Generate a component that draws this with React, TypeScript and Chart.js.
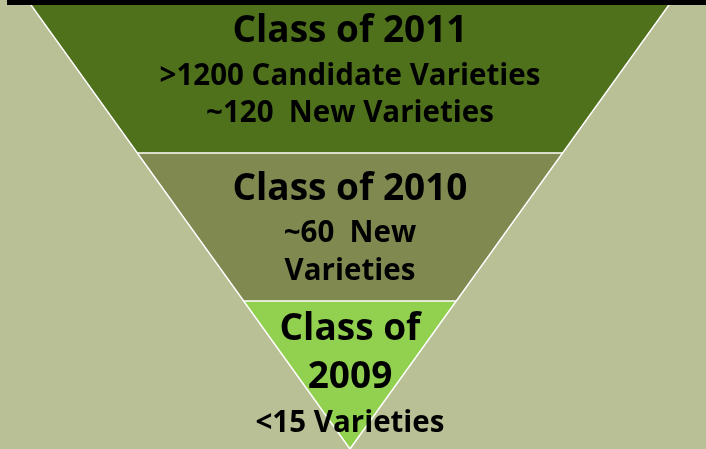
import React, { useEffect, useRef } from "react";
import { Chart, registerables } from "chart.js";

Chart.register(...registerables);

// ---- data ----
const categories = ["Class of 2011", "Class of 2010", "Class of 2009"];
const titleLines = [["Class of 2011"], ["Class of 2010"], ["Class of", "2009"]];
const detailLines = [
  [">1200 Candidate Varieties", "~120  New Varieties"],
  ["~60  New", "Varieties"],
  ["<15 Varieties"],
];
const bandLevels = [3, 2, 1, 0]; // funnel boundaries, top to apex
const bandColors = ["#4F711B", "#7F8950", "#92D050"];

// ---- style / layout ----
const BG = "#B9C096";
const EDGE = "#FFFFFF";
const FONT = "'Open Sans', sans-serif";
const TITLE_PX = 37;
const DETAIL_PX = 29.5;
const baselineOffsets = [
  [-37, 6, 43],
  [-27, 15, 53],
  [-35, 13, 57],
];
const X_MIN = -3.292;
const X_MAX = 3.349;
const Y_MAX = 3.034;
const EXT = 3.6;

export default function App() {
  const ref = useRef<HTMLCanvasElement>(null);
  useEffect(() => {
    document.body.style.margin = "0";
    const ctx = ref.current!;

    const datasets: any[] = [];
    // funnel outline (V) filling outside region with background
    datasets.push({
      label: "funnel",
      data: [
        { x: -EXT, y: EXT },
        { x: 0, y: bandLevels[bandLevels.length - 1] },
        { x: EXT, y: EXT },
      ],
      borderColor: EDGE,
      borderWidth: 1.5,
      backgroundColor: BG,
      fill: "start",
      pointRadius: 0,
    });
    // upper limit line
    datasets.push({
      label: "top",
      data: [
        { x: -EXT, y: EXT },
        { x: EXT, y: EXT },
      ],
      borderWidth: 0,
      borderColor: "rgba(0,0,0,0)",
      fill: false,
      pointRadius: 0,
    });
    bandLevels.slice(1).forEach((lvl, i) => {
      datasets.push({
        label: categories[i],
        data: [
          { x: -EXT, y: lvl },
          { x: EXT, y: lvl },
        ],
        borderColor: EDGE,
        borderWidth: 1.5,
        backgroundColor: bandColors[i],
        fill: "-1",
        pointRadius: 0,
      });
    });

    const textPlugin = {
      id: "funnelText",
      afterDatasetsDraw(chart: any) {
        const c = chart.ctx;
        const xs = chart.scales.x;
        const ys = chart.scales.y;
        const cx = xs.getPixelForValue(0);
        c.save();
        c.fillStyle = "#000";
        c.textAlign = "center";
        c.textBaseline = "alphabetic";
        categories.forEach((_, i) => {
          const cy =
            (ys.getPixelForValue(bandLevels[i]) + ys.getPixelForValue(bandLevels[i + 1])) / 2;
          const lines = [
            ...titleLines[i].map((t) => ({ t, s: TITLE_PX })),
            ...detailLines[i].map((t) => ({ t, s: DETAIL_PX })),
          ];
          lines.forEach((ln, j) => {
            c.font = `bold ${ln.s}px ${FONT}`;
            c.fillText(ln.t, cx, cy + baselineOffsets[i][j]);
          });
        });
        // black frame strip at top
        c.fillStyle = "#000";
        c.fillRect(7, 0, chart.width - 7, 5);
        c.restore();
      },
    };

    const chart = new Chart(ctx, {
      type: "line",
      data: { datasets },
      options: {
        animation: false,
        responsive: false,
        maintainAspectRatio: false,
        layout: { padding: 0 },
        plugins: {
          legend: { display: false },
          tooltip: { enabled: false },
        },
        elements: { line: { tension: 0 } },
        scales: {
          x: { type: "linear", min: X_MIN, max: X_MAX, display: false },
          y: { type: "linear", min: 0, max: Y_MAX, display: false },
        },
      },
      plugins: [
        {
          id: "bg",
          beforeDraw(chart: any) {
            const c = chart.ctx;
            c.save();
            c.fillStyle = BG;
            c.fillRect(0, 0, chart.width, chart.height);
            c.restore();
          },
        },
        textPlugin,
      ],
    });
    return () => chart.destroy();
  }, []);
  return (
    <div style={{ width: 706, height: 449, background: BG }}>
      <canvas ref={ref} width={706} height={449} />
    </div>
  );
}
